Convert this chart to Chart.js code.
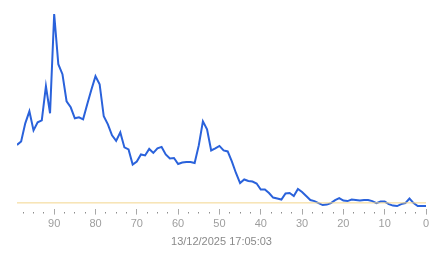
<!DOCTYPE html>
<html lang="en">
  <head>
    <title>Chart.js line</title>
    <style>
      body { margin: 0; background: #fff; }
      #wrap { width: 443px; height: 258px; }
    </style>
  </head>
  <body>
    <div id="wrap">
      <canvas id="myChart"></canvas>
    </div>

    <script src="https://cdn.jsdelivr.net/npm/chart.js"></script>

    <script>
      // x positions, counting down from 99 to 0
      var xValues = [];
      for (var i = 99; i >= 0; i--) xValues.push(i);

      // series, one value per x above
      var seriesValues = [
        63.5, 67, 85, 97, 78, 86, 88, 122, 95, 194,
        144, 134, 107, 101, 90, 91, 89, 104, 118.5, 132,
        124, 92, 84, 73, 67.5, 76, 61, 59, 44, 47,
        54, 53, 59.5, 55.5, 60, 61.5, 54, 50, 50.5, 44.5,
        46, 46.5, 46.5, 45.5, 63, 87, 79, 58, 60, 62.5,
        58, 57, 47, 35.5, 25.5, 29, 27.5, 27, 25, 19,
        19, 15.5, 11, 10, 9, 15, 15.5, 12.5, 19.5, 16.5,
        12.5, 8.5, 7.5, 5.5, 3.5, 4, 5.5, 8.5, 10.5, 8,
        7.5, 9, 8.5, 8, 8.5, 8.5, 7.5, 5.5, 7, 7,
        4.5, 3, 2.5, 4.5, 5.5, 10, 5.5, 2.5, 2.5, 2.5
      ];

      var thresholdValue = 5.7;
      var axisTitle = "13/12/2025 17:05:03";

      var lineData = xValues.map((x, i) => ({ x: x, y: seriesValues[i] }));
      var thresholdData = [
        { x: xValues[0], y: thresholdValue },
        { x: xValues[xValues.length - 1], y: thresholdValue },
      ];

      function isMajor(v) {
        return Math.abs(v % 10) < 1e-6;
      }

      const ctx = document.getElementById("myChart");
      new Chart(ctx, {
        type: "line",
        data: {
          datasets: [
            {
              data: thresholdData,
              borderColor: "#f3d58c",
              borderWidth: 1,
              pointRadius: 0,
            },
            {
              data: lineData,
              borderColor: "#2a62db",
              borderWidth: 2,
              pointRadius: 0,
              tension: 0,
            },
          ],
        },
        options: {
          responsive: true,
          maintainAspectRatio: false,
          animation: false,
          layout: { padding: { left: 17, right: 17, top: 10, bottom: 5 } },
          plugins: {
            legend: { display: false },
            tooltip: { enabled: false },
          },
          scales: {
            x: {
              type: "linear",
              reverse: true,
              min: 0,
              max: 99,
              border: { display: false },
              grid: {
                drawOnChartArea: false,
                tickLength: 6,
                tickWidth: 1,
                tickColor: (c) => (isMajor(c.tick.value) ? "#a8a8a8" : "#8c8c8c"),
                tickBorderDash: (c) => (isMajor(c.tick.value) ? [] : [0, 3, 1.5, 20]),
              },
              ticks: {
                stepSize: 2.5,
                includeBounds: false,
                autoSkip: false,
                maxRotation: 0,
                padding: 3,
                color: "#9e9e9e",
                font: { size: 11 },
                callback: (v) => (isMajor(v) ? v : ""),
              },
              title: {
                display: true,
                text: axisTitle,
                color: "#8a8a8a",
                font: { size: 11 },
                padding: { top: 2, bottom: 4 },
              },
            },
            y: {
              display: false,
              min: 0,
              max: 198,
            },
          },
        },
      });
    </script>
  </body>
</html>
